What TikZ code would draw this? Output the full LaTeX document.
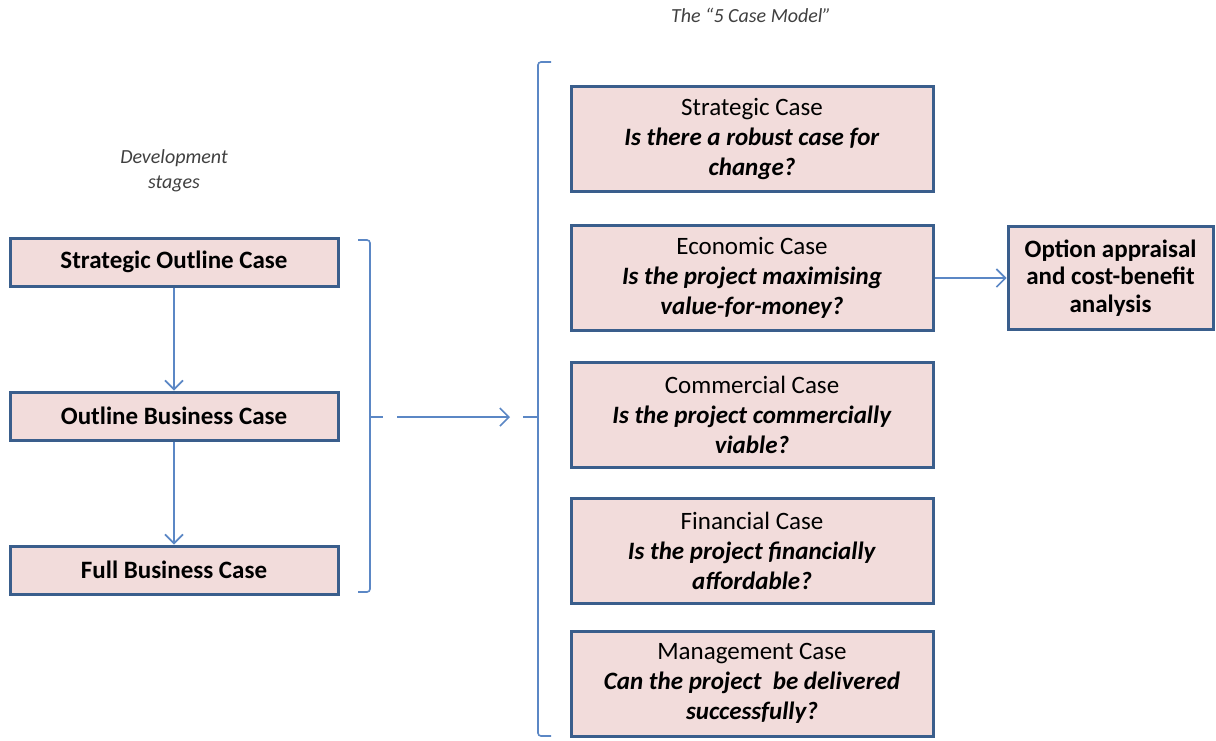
\documentclass[tikz,border=0pt]{standalone}
\usepackage{fontspec}
\setmainfont{Carlito}
\usetikzlibrary{arrows.meta}
\definecolor{boxblue}{HTML}{3A5E8C}
\definecolor{boxpink}{HTML}{F2DCDB}
\definecolor{conn}{HTML}{5B87C5}
\definecolor{labelgray}{HTML}{404040}
\begin{document}
\begin{tikzpicture}[x=1pt,y=-1pt,
  stagebox/.style={draw=boxblue, line width=3pt, fill=boxpink, inner sep=0pt,
    minimum width=328pt, minimum height=48pt, align=center,
    font=\fontsize{25}{29}\selectfont\bfseries},
  casebox/.style={draw=boxblue, line width=3pt, fill=boxpink, inner sep=0pt,
    minimum width=362pt, minimum height=105pt, align=center,
    font=\fontsize{25}{30}\selectfont},
  optbox/.style={draw=boxblue, line width=3pt, fill=boxpink, inner sep=0pt,
    minimum width=205pt, minimum height=103pt,
    align=center, font=\fontsize{25}{27.5}\selectfont\bfseries},
  conline/.style={draw=conn, line width=1.6pt},
  conarrow/.style={conline, -{Straight Barb[length=9pt,width=18pt,line width=1.6pt]}},
  caption/.style={font=\fontsize{20}{25}\selectfont\itshape, text=labelgray, align=center}
]
\useasboundingbox (0,0) rectangle (1216,740);

\node[caption] (title) at (751,15) {The “5 Case Model”};
\node[caption] (devlabel) at (174,171) {Development\\stages};

\node[stagebox] (soc) at (174,262) {Strategic Outline Case};
\node[stagebox] (obc) at (174,416) {Outline Business Case};
\node[stagebox] (fbc) at (174,570) {Full Business Case};

\draw[conarrow] (soc.south) -- (obc.north);
\draw[conarrow] (obc.south) -- (fbc.north);

\node[casebox] (strat) at (752,138.5) {Strategic Case\\\textbf{\textit{Is there a robust case for}}\\\textbf{\textit{change?}}};
\node[casebox] (econ) at (752,278) {Economic Case\\\textbf{\textit{Is the project maximising}}\\\textbf{\textit{value-for-money?}}};
\node[casebox] (comm) at (752,414.5) {Commercial Case\\\textbf{\textit{Is the project commercially}}\\\textbf{\textit{viable?}}};
\node[casebox] (fin) at (752,550.5) {Financial Case\\\textbf{\textit{Is the project financially}}\\\textbf{\textit{affordable?}}};
\node[casebox] (mgmt) at (752,683.5) {Management Case\\\textbf{\textit{Can the project\ \ be delivered}}\\\textbf{\textit{successfully?}}};

\node[optbox] (opt) at (1110.5,278) {Option appraisal\\and cost-benefit\\analysis};
\draw[conarrow] (econ.east) -- (opt.west);

% left bracket
\coordinate (lbt) at (358,240);
\coordinate (lbb) at (358,592);
\coordinate (lbm) at (370,417);
\draw[conline, rounded corners=3pt] (lbt) -- (370,240) -- (370,592) -- (lbb);
\draw[conline] (lbm) -- (383,417);
% arrow between brackets
\coordinate (arrs) at (397,417);
\coordinate (arre) at (510,417);
\draw[conarrow] (arrs) -- (arre);
% right bracket
\coordinate (rbt) at (551,62);
\coordinate (rbb) at (551,736);
\coordinate (rbm) at (538,417);
\draw[conline, rounded corners=3pt] (rbt) -- (538,62) -- (538,736) -- (rbb);
\draw[conline] (523,417) -- (rbm);
\end{tikzpicture}
\end{document}
